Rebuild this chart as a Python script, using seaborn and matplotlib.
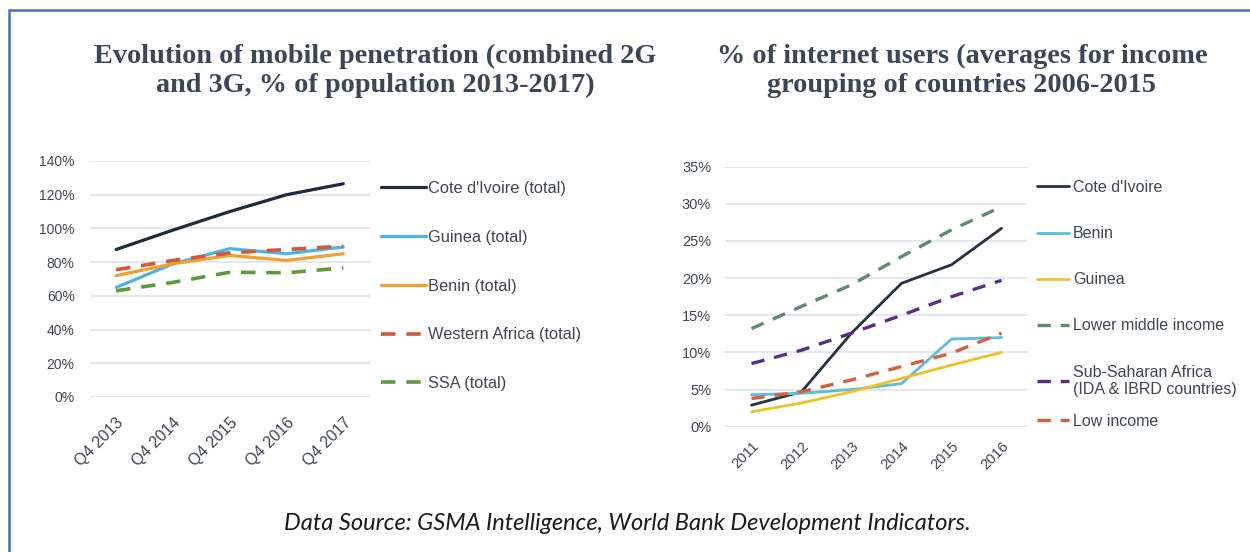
import matplotlib
matplotlib.use("Agg")
import matplotlib.pyplot as plt
import seaborn as sns
import numpy as np
import pandas as pd
from matplotlib.patches import Rectangle
from matplotlib.ticker import FuncFormatter, MultipleLocator

# ---------------- data ----------------
quarters = ["Q4 2013", "Q4 2014", "Q4 2015", "Q4 2016", "Q4 2017"]
mob_cote = [87.5, 99, 110, 120, 126.5]
mob_guinea = [65, 79, 88, 85, 89]
mob_benin = [72, 79, 84, 81, 85]
mob_wafrica = [75.5, 81, 85.5, 87.5, 89.5]
mob_ssa = [63, 68, 74, 73.7, 76.6]

years = ["2011", "2012", "2013", "2014", "2015", "2016"]
int_cote = [2.9, 4.7, 12.6, 19.3, 21.8, 26.7]
int_benin = [4.3, 4.5, 5.0, 5.8, 11.8, 12.0]
int_guinea = [2.0, 3.2, 4.7, 6.5, 8.3, 10.0]
int_lmi = [13.2, 16.2, 19.1, 22.9, 26.5, 29.6]
int_ssa = [8.5, 10.3, 12.6, 15.0, 17.5, 19.7]
int_low = [3.8, 4.7, 6.3, 8.1, 9.9, 12.6]

left_labels = ["Cote d'Ivoire (total)", "Guinea (total)", "Benin (total)",
               "Western Africa (total)", "SSA (total)"]
right_labels = ["Cote d'Ivoire", "Benin", "Guinea", "Lower middle income",
                "Sub-Saharan Africa\n(IDA & IBRD countries)", "Low income"]

# ---------------- style ----------------
sns.set_theme(style="white")
plt.rcParams["font.family"] = ["Liberation Sans", "DejaVu Sans"]

W, H = 1250, 552
fig = plt.figure(figsize=(W / 100, H / 100), dpi=100)
fig.patch.set_facecolor("white")

tick_color = "#404650"
grid_color = "#dce5ee"
title_color = "#3b4659"

def px_ax(x0, y0, x1, y1):
    return fig.add_axes([x0 / W, 1 - y1 / H, (x1 - x0) / W, (y1 - y0) / H])

def style_axes(ax):
    for s in ax.spines.values():
        s.set_visible(False)
    ax.grid(axis="y", color=grid_color, linewidth=1.2)
    ax.grid(axis="x", visible=False)
    ax.set_axisbelow(True)
    ax.tick_params(axis="both", length=0, colors=tick_color)
    ax.yaxis.set_major_formatter(FuncFormatter(lambda v, p: f"{v:.0f}%"))
    ax.set_xlabel("")
    ax.set_ylabel("")

def rotate(ax):
    for t in ax.get_xticklabels():
        t.set_rotation(45)
        t.set_ha("right")
        t.set_rotation_mode("anchor")

# ---------------- left chart ----------------
axL = px_ax(90, 161, 370, 397)
left_series = [mob_cote, mob_guinea, mob_benin, mob_wafrica, mob_ssa]
left_colors = ["#1e2a3d", "#4db3e2", "#f0a02c", "#d2583a", "#5d9b3c"]
left_dash = [False, False, False, True, True]
for vals, lab, col, d in zip(left_series, left_labels, left_colors, left_dash):
    sns.lineplot(x=quarters, y=vals, ax=axL, color=col, label=lab,
                 linewidth=2.3 if not d else 2.6,
                 linestyle=(0, (4, 3)) if d else "-", sort=False)
axL.set_ylim(0, 140)
axL.yaxis.set_major_locator(MultipleLocator(20))
axL.set_xlim(-0.46, 4.47)
style_axes(axL)
axL.tick_params(axis="y", labelsize=10, pad=11)
axL.tick_params(axis="x", labelsize=11.5, pad=13)
rotate(axL)
legL = axL.legend(loc="upper left", bbox_to_anchor=(381 / W, 1 - 181 / H),
                  bbox_transform=fig.transFigure, frameon=False,
                  fontsize=11.8, handlelength=2.75, handletextpad=0.1,
                  labelspacing=2.06, borderaxespad=0, borderpad=0)
for t in legL.get_texts():
    t.set_color(tick_color)

# ---------------- right chart ----------------
axR = px_ax(725, 166.7, 1027, 426.7)
right_series = [int_cote, int_benin, int_guinea, int_lmi, int_ssa, int_low]
right_colors = ["#283142", "#5bbde2", "#f0c226", "#5c8c6c", "#5a2d8c", "#d4603c"]
right_dash = [False, False, False, True, True, True]
for vals, lab, col, d in zip(right_series, right_labels, right_colors, right_dash):
    sns.lineplot(x=years, y=vals, ax=axR, color=col, label=lab,
                 linewidth=2.0 if not d else 2.4,
                 linestyle=(0, (4, 3)) if d else "-", sort=False)
axR.set_ylim(0, 35)
axR.yaxis.set_major_locator(MultipleLocator(5))
axR.set_xlim(-0.53, 5.51)
style_axes(axR)
axR.tick_params(axis="y", labelsize=10.5, pad=10)
axR.tick_params(axis="x", labelsize=10.5, pad=9)
rotate(axR)
handles, labels = axR.get_legend_handles_labels()
legR1 = axR.legend(handles[:5], labels[:5], loc="upper left",
                   bbox_to_anchor=(1037 / W, 1 - 180 / H),
                   bbox_transform=fig.transFigure, frameon=False,
                   fontsize=11.5, handlelength=2.0, handletextpad=0.25,
                   labelspacing=1.95, borderaxespad=0, borderpad=0)
axR.add_artist(legR1)
legR2 = axR.legend(handles[5:], labels[5:], loc="upper left",
                   bbox_to_anchor=(1037 / W, 1 - 414 / H),
                   bbox_transform=fig.transFigure, frameon=False,
                   fontsize=11.5, handlelength=2.0, handletextpad=0.25,
                   borderaxespad=0, borderpad=0)
for lg in (legR1, legR2):
    for t in lg.get_texts():
        t.set_color(tick_color)

# ---------------- titles / footer ----------------
fig.text(375 / W, 1 - 71 / H,
         "Evolution of mobile penetration (combined 2G\nand 3G, % of population 2013-2017)",
         ha="center", va="center", fontsize=20.3, fontweight="bold",
         family=["Liberation Serif", "DejaVu Serif"], color=title_color,
         linespacing=1.18)
fig.text(962 / W, 1 - 71 / H,
         "% of internet users (averages for income\ngrouping of countries 2006-2015",
         ha="center", va="center", fontsize=20.3, fontweight="bold",
         family=["Liberation Serif", "DejaVu Serif"], color=title_color,
         linespacing=1.18)
fig.text(627 / W, 1 - 523 / H,
         "Data Source: GSMA Intelligence, World Bank Development Indicators.",
         ha="center", va="center", fontsize=17, fontstyle="italic",
         family=["Lato", "DejaVu Sans"], color="#1a1a1a")

# border
fig.add_artist(Rectangle((9 / W, -0.05), 1.2, 1 - 10 / H + 0.05,
                         transform=fig.transFigure, fill=False,
                         edgecolor="#4472c4", linewidth=1.8))

fig.savefig("out.png", dpi=100, facecolor="white")
